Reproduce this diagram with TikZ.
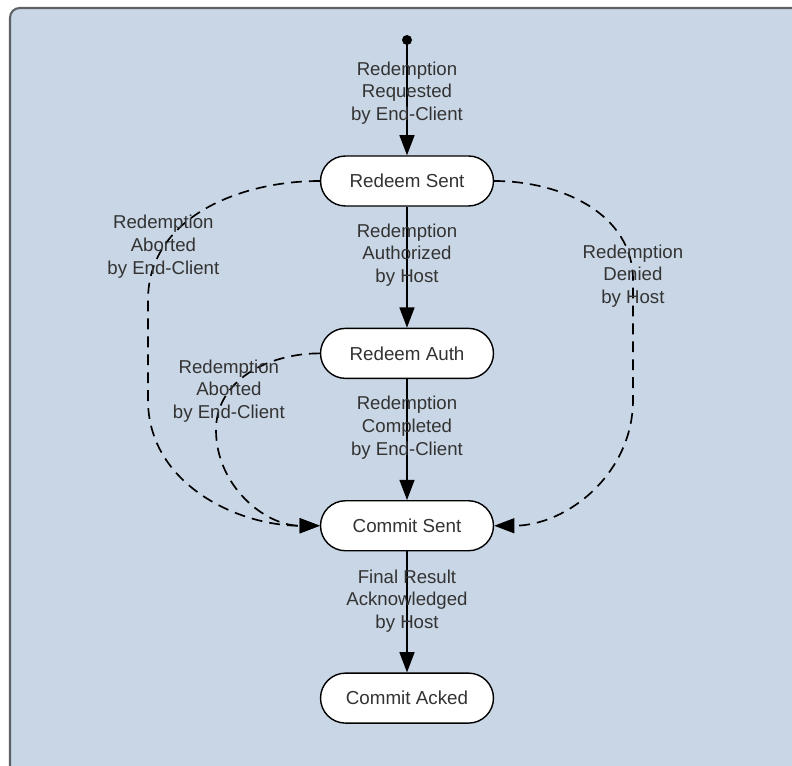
\documentclass[tikz,border=0pt]{standalone}
\usepackage{fontspec}
\setmainfont{Liberation Sans}
\usetikzlibrary{positioning,arrows.meta}
\definecolor{panelFill}{HTML}{C9D6E5}
\definecolor{panelBorder}{HTML}{5E6166}
\definecolor{labelText}{HTML}{333333}

\begin{document}
\begin{tikzpicture}[
    x=0.02cm, y=0.02cm,
    state/.style={
        rectangle, draw, fill=white,
        minimum width=3.46cm, minimum height=1cm,
        rounded corners=0.5cm,
        line width=0.8pt, font=\fontsize{10.7}{13}\selectfont, text=labelText
    },
    trans/.style={-{Triangle[length=11.5pt,width=8.5pt]}, line width=0.95pt},
    abort/.style={trans, dash pattern=on 6.2pt off 4pt},
    lbl/.style={align=center, font=\fontsize{10.6}{13}\selectfont, text=labelText}
]
  \useasboundingbox (0,0) rectangle (792,765);

  % Panel
  \draw[fill=panelFill, draw=panelBorder, line width=1.2pt, rounded corners=5.5pt]
      (10,-60) rectangle (860,757);

  % States
  \fill (407,725) circle (5) coordinate (start);
  \node[state] (rs) at (407,584) {Redeem Sent};
  \node[state, below=2.42cm of rs] (ra) {Redeem Auth};
  \node[state, below=2.42cm of ra] (cs) {Commit Sent};
  \node[state, below=2.42cm of cs] (ca) {Commit Acked};

  % Main flow
  \draw[trans] (start) -- (rs.north)
      node[lbl, pos=0.46] {Redemption\\Requested\\by End-Client};
  \draw[trans] (rs) -- (ra)
      node[lbl, pos=0.4] {Redemption\\Authorized\\by Host};
  \draw[trans] (ra) -- (cs)
      node[lbl, pos=0.4] {Redemption\\Completed\\by End-Client};
  \draw[trans] (cs) -- (ca)
      node[lbl, pos=0.41] {Final Result\\Acknowledged\\by Host};

  % Aborted / denied (dashed)
  \draw[abort] (rs.west) to[out=180,in=90]
      node[lbl, pos=0.75] {Redemption\\Aborted\\by End-Client} (148,465)
      -- (148,365) to[out=-90,in=180] (cs.west);
  \draw[abort] (ra.west) to[out=180,in=90]
      node[lbl, pos=0.7] {Redemption\\Aborted\\by End-Client} (216,335)
      to[out=-90,in=180] (cs.west);
  \draw[abort] (rs.east) to[out=0,in=90]
      node[lbl, pos=0.98] {Redemption\\Denied\\by Host} (633,485)
      -- (633,365) to[out=-90,in=0] (cs.east);

\end{tikzpicture}
\end{document}
